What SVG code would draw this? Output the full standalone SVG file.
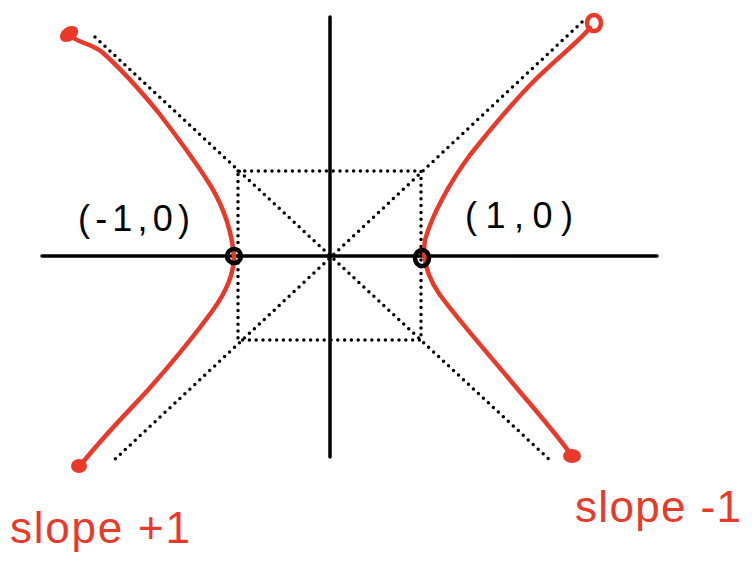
<svg xmlns="http://www.w3.org/2000/svg" width="754" height="561" viewBox="0 0 754 561">
<style>
.dot{fill:none;stroke:#000;stroke-width:3.5;stroke-linecap:round;stroke-dasharray:0 6.8}
.axis{fill:none;stroke:#000;stroke-width:3.5;stroke-linecap:round}
.red{fill:none;stroke:#e8392a;stroke-width:4.5;stroke-linecap:round;stroke-linejoin:round}
.blob{fill:#e8392a}
.pt{fill:none;stroke:#000;stroke-width:4.5}
.lbl{font-family:"Liberation Sans",Arial,sans-serif;font-size:36px;fill:#000}
.rl{font-family:"Liberation Sans",Arial,sans-serif;font-size:44px;fill:#e8392a}
</style>
<rect width="754" height="561" fill="#fff"/>
<g id="connectors">
<path class="dot" d="M238,171 H421 V340 H238 Z"/>
<path class="dot" d="M95,37 L552,462"/>
<path class="dot" d="M582,22 L112,462"/>
</g>
<g id="axes">
<path class="axis" d="M42,256 H657"/>
<path class="axis" d="M330,17 V457"/>
</g>
<g id="left-branch">
<path class="red" d="M72,37 C82,44 92,44 102,52 C120,68 140,90 158,112 C178,138 198,165 212,188 C226,212 232,235 234,256 C234,275 226,292 213,310 C195,335 170,365 148,390 C125,415 100,440 80,466"/>
<ellipse class="blob" cx="69" cy="34" rx="10" ry="7" transform="rotate(-35 69 34)"/>
<ellipse class="blob" cx="79" cy="466" rx="8" ry="7"/>
</g>
<g id="right-branch">
<path class="red" d="M590,28 C575,45 555,60 535,80 C510,105 490,130 470,155 C450,182 432,215 425,240 C422,258 426,275 440,295 C460,322 485,350 510,380 C535,410 555,432 572,456"/>
<ellipse cx="594" cy="23" rx="7" ry="8" fill="none" stroke="#e8392a" stroke-width="4.5"/>
<ellipse class="blob" cx="572" cy="456" rx="9" ry="7"/>
</g>
<g id="point-left">
<circle class="pt" cx="234" cy="256" r="7"/>
<text class="lbl" x="78" y="231" textLength="112" lengthAdjust="spacing">(-1,0)</text>
</g>
<g id="point-right">
<ellipse class="pt" cx="422" cy="258" rx="7" ry="8"/>
<text class="lbl" x="465" y="228" textLength="108" lengthAdjust="spacing">(1,0)</text>
</g>
<g id="label-slope-plus">
<text class="rl" x="10" y="543" textLength="180" lengthAdjust="spacing">slope +1</text>
</g>
<g id="label-slope-minus">
<text class="rl" x="575" y="522" textLength="166" lengthAdjust="spacing">slope -1</text>
</g>
</svg>
